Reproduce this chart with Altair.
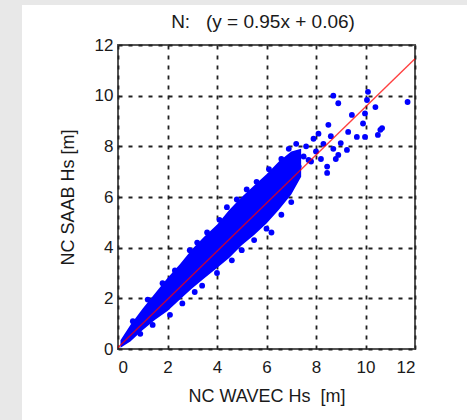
import altair as alt
import pandas as pd

# Dense core of the scatter (vertical extent of the blue cloud read along x)
band_x = [0.1, 0.5, 1.0, 1.5, 2.0, 2.5, 3.0, 3.5, 4.0, 4.5, 5.0, 5.5, 6.0, 6.5, 7.0, 7.4]
band_hi = [0.35, 0.95, 1.6, 2.2, 2.8, 3.35, 3.95, 4.45, 4.9, 5.5, 6.0, 6.45, 6.9, 7.4, 7.8, 7.9]
band_lo = [0.05, 0.3, 0.75, 1.15, 1.5, 1.95, 2.4, 2.8, 3.2, 3.6, 4.1, 4.5, 4.95, 5.5, 6.1, 6.8]

# Individual scatter points (edges of the cloud, sparse tail, outliers)
pt_x = [0.6, 1.2, 1.8, 2.3, 2.9, 3.2, 3.6, 4.1, 4.4, 4.8, 5.2, 5.6, 6.1, 6.6, 6.9, 7.2,
        0.9, 1.4, 2.1, 2.6, 3.1, 3.4, 4.0, 4.6, 5.0, 5.5, 6.0, 6.2, 6.6, 7.0,
        7.3, 7.5, 7.6, 7.8, 7.9, 8.0, 8.1, 8.2, 8.3, 8.45, 8.5, 8.6, 8.7, 8.8, 8.9,
        9.0, 9.25, 9.3, 9.65, 9.98, 9.9, 7.7, 8.45,
        8.7, 8.9, 10.1, 10.06, 10.4, 11.7, 9.45, 9.98, 10.6, 10.5, 10.67]
pt_y = [1.1, 1.95, 2.6, 3.1, 3.9, 4.2, 4.6, 5.1, 5.6, 5.9, 6.3, 6.6, 7.1, 7.5, 7.9, 8.1,
        0.6, 0.95, 1.35, 1.8, 2.25, 2.5, 3.0, 3.5, 3.9, 4.3, 4.75, 4.6, 5.3, 5.8,
        7.2, 7.6, 8.0, 7.4, 8.3, 7.8, 8.5, 7.5, 8.1, 6.95, 8.85, 8.4, 7.9, 7.5, 7.66,
        8.13, 7.86, 8.57, 8.37, 8.37, 8.9, 7.46, 7.2,
        10.0, 9.7, 10.15, 9.83, 9.55, 9.75, 9.24, 9.3, 8.65, 8.45, 8.72]

# Fit line y = 0.95x + 0.06 endpoints
fit_x = [0.0, 12.0]
fit_y = [0.06, 11.46]

ticks = [0, 2, 4, 6, 8, 10, 12]
NB = "\u00a0"
title_text = ["N:" + NB * 3 + "(y = 0.95x + 0.06)"]
x_title = "NC WAVEC Hs" + NB * 2 + "[m]"
y_title = "NC SAAB Hs [m]"
FONT = "Liberation Sans"
W, H = 297, 304

xs = alt.Scale(domain=[0, 12], nice=False)
ys = alt.Scale(domain=[0, 12], nice=False)

x_axis = alt.Axis(values=ticks, grid=True, gridColor="#222", gridDash=[4, 6], gridWidth=1.8,
                  ticks=False, domain=False, labelPadding=10, labelFontSize=17, labelFont=FONT,
                  labelColor="#1a1a1a", title=x_title, titleFont=FONT, titleFontSize=18,
                  titleFontWeight="normal", titleColor="#1a1a1a", titleY=52, titleBaseline="alphabetic")
y_axis = alt.Axis(values=ticks, grid=True, gridColor="#222", gridDash=[4, 6], gridWidth=1.8,
                  ticks=False, domain=False, labelPadding=5, labelFontSize=17, labelFont=FONT,
                  labelColor="#1a1a1a", title=y_title, titleFont=FONT, titleFontSize=18,
                  titleFontWeight="normal", titleColor="#1a1a1a", titleX=-50, titleY=152,
                  titleAlign="center", titleBaseline="middle", titleAngle=270)

band_df = pd.DataFrame({"x": band_x, "lo": band_lo, "hi": band_hi})
pts_df = pd.DataFrame({"x": pt_x, "y": pt_y})
fit_df = pd.DataFrame({"x": fit_x, "y": fit_y})
title_df = pd.DataFrame({"t": title_text})

one = alt.Data(values=[{"a": 1}])

strip_left = alt.Chart(one).mark_rect(color="#e8e8e8").encode(
    x=alt.value(-118), x2=alt.value(-96), y=alt.value(-45), y2=alt.value(375))
strip_top = alt.Chart(one).mark_rect(color="#e8e8e8").encode(
    x=alt.value(-118), x2=alt.value(349), y=alt.value(-45), y2=alt.value(-40))

band = alt.Chart(band_df).mark_area(color="#0000ff", interpolate="linear").encode(
    x=alt.X("x:Q", scale=xs, axis=x_axis),
    y=alt.Y("lo:Q", scale=ys, axis=y_axis),
    y2="hi:Q")

points = alt.Chart(pts_df).mark_point(filled=True, color="#0000ff", opacity=1, size=34, shape="circle").encode(
    x=alt.X("x:Q", scale=xs), y=alt.Y("y:Q", scale=ys))

fit = alt.Chart(fit_df).mark_line(color="#ff0000", opacity=0.75, strokeWidth=1.4).encode(
    x=alt.X("x:Q", scale=xs), y=alt.Y("y:Q", scale=ys))

title = alt.Chart(title_df).mark_text(font=FONT, fontSize=19, color="#1a1a1a", align="center",
                                      baseline="alphabetic").encode(
    text="t:N", x=alt.value(145), y=alt.value(-17))

chart = alt.layer(strip_left, strip_top, band, points, fit, title).properties(
    width=W, height=H,
    background="white",
    padding={"left": 118, "top": 45, "right": 52, "bottom": 71},
    autosize=alt.AutoSizeParams(type="none"),
).configure_view(stroke="#555", strokeWidth=2)

chart.save("out.html", embed_options={"renderer": "svg", "actions": False})
